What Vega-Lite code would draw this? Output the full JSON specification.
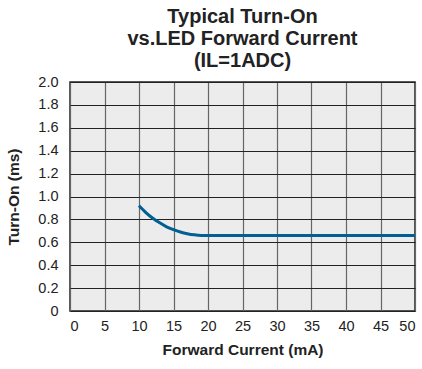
{
  "$schema": "https://vega.github.io/schema/vega-lite/v6.json",
  "autosize": {"type": "none"},
  "width": 345,
  "height": 229,
  "padding": {"left": 70, "top": 82, "right": 7, "bottom": 58},
  "background": "white",
  "title": {
    "text": ["Typical Turn-On", "vs.LED Forward Current", "(IL=1ADC)"],
    "font": "Liberation Sans",
    "fontSize": 20,
    "fontWeight": "bold",
    "color": "#222222",
    "lineHeight": 22,
    "anchor": "middle",
    "offset": 3
  },
  "config": {
    "view": {"fill": "#ececec", "stroke": "#222222", "strokeWidth": 1.5},
    "axis": {
      "labelFont": "Liberation Sans",
      "labelFontSize": 14.5,
      "labelColor": "#222222",
      "titleFont": "Liberation Sans",
      "titleFontWeight": "bold",
      "titleColor": "#222222",
      "ticks": false,
      "domain": false,
      "grid": true
    }
  },
  "data": {
    "values": [
      {"current": 10, "turnon": 0.92},
      {"current": 11, "turnon": 0.86},
      {"current": 12, "turnon": 0.81},
      {"current": 13, "turnon": 0.77},
      {"current": 14, "turnon": 0.735},
      {"current": 15, "turnon": 0.71},
      {"current": 16, "turnon": 0.69},
      {"current": 17, "turnon": 0.675},
      {"current": 18, "turnon": 0.665},
      {"current": 19, "turnon": 0.66},
      {"current": 20, "turnon": 0.66},
      {"current": 50, "turnon": 0.66}
    ]
  },
  "mark": {"type": "line", "color": "#005f93", "strokeWidth": 3, "interpolate": "monotone"},
  "encoding": {
    "x": {
      "field": "current",
      "type": "quantitative",
      "scale": {"domain": [0, 50], "nice": false},
      "axis": {
        "values": [0, 5, 10, 15, 20, 25, 30, 35, 40, 45, 50],
        "title": "Forward Current (mA)",
        "titleFontSize": 15.5,
        "labelPadding": 8,
        "titlePadding": 10,
        "gridColor": "#666666",
        "gridWidth": 1.2,
        "gridOpacity": 1
      }
    },
    "y": {
      "field": "turnon",
      "type": "quantitative",
      "scale": {"domain": [0, 2], "nice": false},
      "axis": {
        "values": [0, 0.2, 0.4, 0.6, 0.8, 1.0, 1.2, 1.4, 1.6, 1.8, 2.0],
        "labelExpr": "datum.value == 0 ? '0' : format(datum.value, '.1f')",
        "title": "Turn-On (ms)",
        "titleFontSize": 15.5,
        "labelPadding": 12,
        "titlePadding": 16,
        "gridColor": "#222222",
        "gridWidth": 1.2,
        "gridOpacity": 1
      }
    }
  }
}
